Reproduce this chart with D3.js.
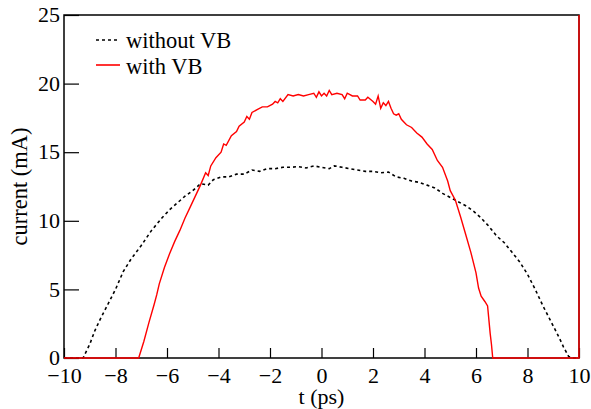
<!DOCTYPE html>
<html>
<head>
<meta charset="utf-8">
<script src="https://cdn.jsdelivr.net/npm/d3@7"></script>
<style>
  body { margin: 0; background: #fff; }
</style>
</head>
<body>
<svg id="chart"></svg>
<script>
// without VB (dotted black)
const tWithout = [-10, -9.26, -9.0, -8.8, -8.6, -8.3, -8.0, -7.7, -7.4, -7.0, -6.6, -6.2, -5.9, -5.6, -5.3, -5.0,
  -4.7, -4.4, -4.2, -3.9, -3.6, -3.3, -3.0, -2.7, -2.4, -2.1, -1.8, -1.5, -1.2, -0.9, -0.6, -0.3, 0.0,
  0.3, 0.5, 0.8, 1.1, 1.4, 1.7, 2.0, 2.3, 2.6, 2.9, 3.2, 3.5, 3.8, 4.1, 4.4, 4.7, 5.0, 5.3, 5.6, 5.9,
  6.2, 6.5, 6.8, 7.1, 7.4, 7.7, 8.0, 8.3, 8.6, 8.9, 9.2, 9.4, 9.6, 9.8, 10];
const iWithout = [0, 0, 1.0, 2.0, 2.8, 3.9, 5.0, 6.3, 7.2, 8.2, 9.3, 10.2, 10.8, 11.3, 11.8, 12.2,
  12.7, 12.6, 13.0, 13.2, 13.2, 13.4, 13.4, 13.7, 13.6, 13.8, 13.8, 13.9, 13.9, 13.95, 13.85, 14.0, 13.9,
  13.8, 14.0, 13.9, 13.8, 13.7, 13.6, 13.6, 13.5, 13.55, 13.2, 13.1, 12.9, 12.8, 12.6, 12.4, 12.0, 11.7, 11.4, 11.1, 10.7,
  10.2, 9.6, 8.9, 8.4, 7.7, 7.0, 6.1, 5.0, 3.8, 2.7, 1.6, 0.8, 0.1, 0, 0];

// with VB (solid red)
const tWith = [-10, -7.1, -6.9, -6.7, -6.5, -6.4, -6.3, -6.1, -5.9, -5.7, -5.5, -5.3, -5.1, -4.9, -4.7, -4.5,
  -4.4, -4.3, -4.1, -3.9, -3.8, -3.7, -3.5, -3.3, -3.2, -3.0, -2.9, -2.8, -2.7, -2.5, -2.3, -2.1, -1.9,
  -1.8, -1.7, -1.6, -1.5, -1.3, -1.1, -0.9, -0.7, -0.5, -0.3, -0.2, -0.1, 0.0, 0.1, 0.2, 0.3, 0.4, 0.6,
  0.8, 0.9, 1.0, 1.2, 1.4, 1.5, 1.7, 1.8, 2.0, 2.1, 2.2, 2.3, 2.4, 2.5, 2.6, 2.7, 2.8, 2.9, 3.0, 3.1,
  3.3, 3.5, 3.7, 3.9, 4.1, 4.3, 4.5, 4.7, 4.9, 5.0, 5.2, 5.4, 5.6, 5.8, 6.0, 6.1, 6.2, 6.35, 6.45, 6.55,
  6.6, 6.65, 10, 10];
const iWith = [0, 0, 1.2, 2.6, 3.9, 4.6, 5.4, 6.6, 7.6, 8.5, 9.3, 10.2, 11.0, 11.8, 12.6, 13.5,
  13.3, 14.0, 14.6, 15.0, 15.6, 15.5, 16.2, 16.5, 16.9, 17.2, 17.6, 17.4, 17.9, 18.1, 18.3, 18.3, 18.5,
  18.7, 18.6, 18.9, 18.7, 19.2, 19.1, 19.2, 19.1, 19.2, 19.3, 19.0, 19.4, 19.1, 19.3, 19.1, 19.5, 19.2, 19.3,
  19.2, 18.9, 19.3, 19.1, 19.1, 18.8, 18.8, 19.0, 18.7, 18.5, 19.1, 18.2, 18.6, 18.4, 18.7, 18.2, 17.8, 17.7, 17.8, 17.4,
  17.0, 16.8, 16.4, 16.1, 15.6, 15.2, 14.4, 13.9, 12.9, 12.2, 11.5, 10.3, 9.0, 7.7, 6.2, 5.1, 4.5, 4.1, 3.8, 1.8,
  1.0, 0, 0, 25];

const xTicks = [-10, -8, -6, -4, -2, 0, 2, 4, 6, 8, 10];
const yTicks = [0, 5, 10, 15, 20, 25];
const seriesNames = ["without VB", "with VB"];

const width = 591, height = 409;
const marginTop = 15, marginRight = 12, marginBottom = 51, marginLeft = 64;
const serif = "'Liberation Serif', 'DejaVu Serif', serif";

const svg = d3.select("#chart")
  .attr("width", width)
  .attr("height", height)
  .attr("viewBox", [0, 0, width, height])
  .attr("font-family", serif);

const x = d3.scaleLinear().domain([-10, 10]).range([marginLeft, width - marginRight]);
const y = d3.scaleLinear().domain([0, 25]).range([height - marginBottom, marginTop]);

const fmt = d => d < 0 ? "\u2212" + Math.abs(d) : String(d);

// x axis (ticks pointing inward)
svg.append("g")
  .attr("transform", `translate(0,${height - marginBottom})`)
  .call(d3.axisBottom(x).tickValues(xTicks).tickSize(-10).tickSizeOuter(0).tickPadding(9).tickFormat(fmt))
  .attr("font-family", serif)
  .call(g => g.select(".domain").remove())
  .call(g => g.selectAll(".tick line").attr("stroke", "#000").attr("stroke-width", 1.2))
  .call(g => g.selectAll(".tick text").attr("font-size", 22).attr("fill", "#000"));

// y axis
svg.append("g")
  .attr("transform", `translate(${marginLeft},0)`)
  .call(d3.axisLeft(y).tickValues(yTicks).tickSize(-15).tickSizeOuter(0).tickPadding(4).tickFormat(fmt))
  .attr("font-family", serif)
  .call(g => g.select(".domain").remove())
  .call(g => g.selectAll(".tick line").attr("stroke", "#000").attr("stroke-width", 1.2))
  .call(g => g.selectAll(".tick text").attr("font-size", 22).attr("fill", "#000").attr("dy", "0.3em"));

// frame
svg.append("rect")
  .attr("x", marginLeft)
  .attr("y", marginTop)
  .attr("width", width - marginLeft - marginRight)
  .attr("height", height - marginTop - marginBottom)
  .attr("fill", "none")
  .attr("stroke", "#000")
  .attr("stroke-width", 1.5);

const line = d3.line().x(d => x(d[0])).y(d => y(d[1]));

svg.append("path")
  .datum(d3.zip(tWithout, iWithout))
  .attr("fill", "none")
  .attr("stroke", "#000")
  .attr("stroke-width", 1.6)
  .attr("stroke-dasharray", "3,3")
  .attr("d", line);

svg.append("path")
  .datum(d3.zip(tWith, iWith))
  .attr("fill", "none")
  .attr("stroke", "#ff0000")
  .attr("stroke-width", 1.4)
  .attr("d", line);

// axis titles
svg.append("text")
  .attr("x", x(0))
  .attr("y", 404)
  .attr("text-anchor", "middle")
  .attr("font-size", 22)
  .text("t (ps)");

svg.append("text")
  .attr("transform", `translate(27,${y(12.5)}) rotate(-90)`)
  .attr("text-anchor", "middle")
  .attr("font-size", 22.5)
  .text("current (mA)");

// legend
const legend = svg.append("g");
legend.append("line")
  .attr("x1", 96).attr("x2", 119).attr("y1", 40).attr("y2", 40)
  .attr("stroke", "#000").attr("stroke-width", 1.6).attr("stroke-dasharray", "3,3");
legend.append("text").attr("x", 126).attr("y", 48).attr("font-size", 22.5).text(seriesNames[0]);
legend.append("line")
  .attr("x1", 96).attr("x2", 120).attr("y1", 65).attr("y2", 65)
  .attr("stroke", "#ff0000").attr("stroke-width", 1.6);
legend.append("text").attr("x", 126).attr("y", 74).attr("font-size", 22.5).text(seriesNames[1]);
</script>
</body>
</html>
